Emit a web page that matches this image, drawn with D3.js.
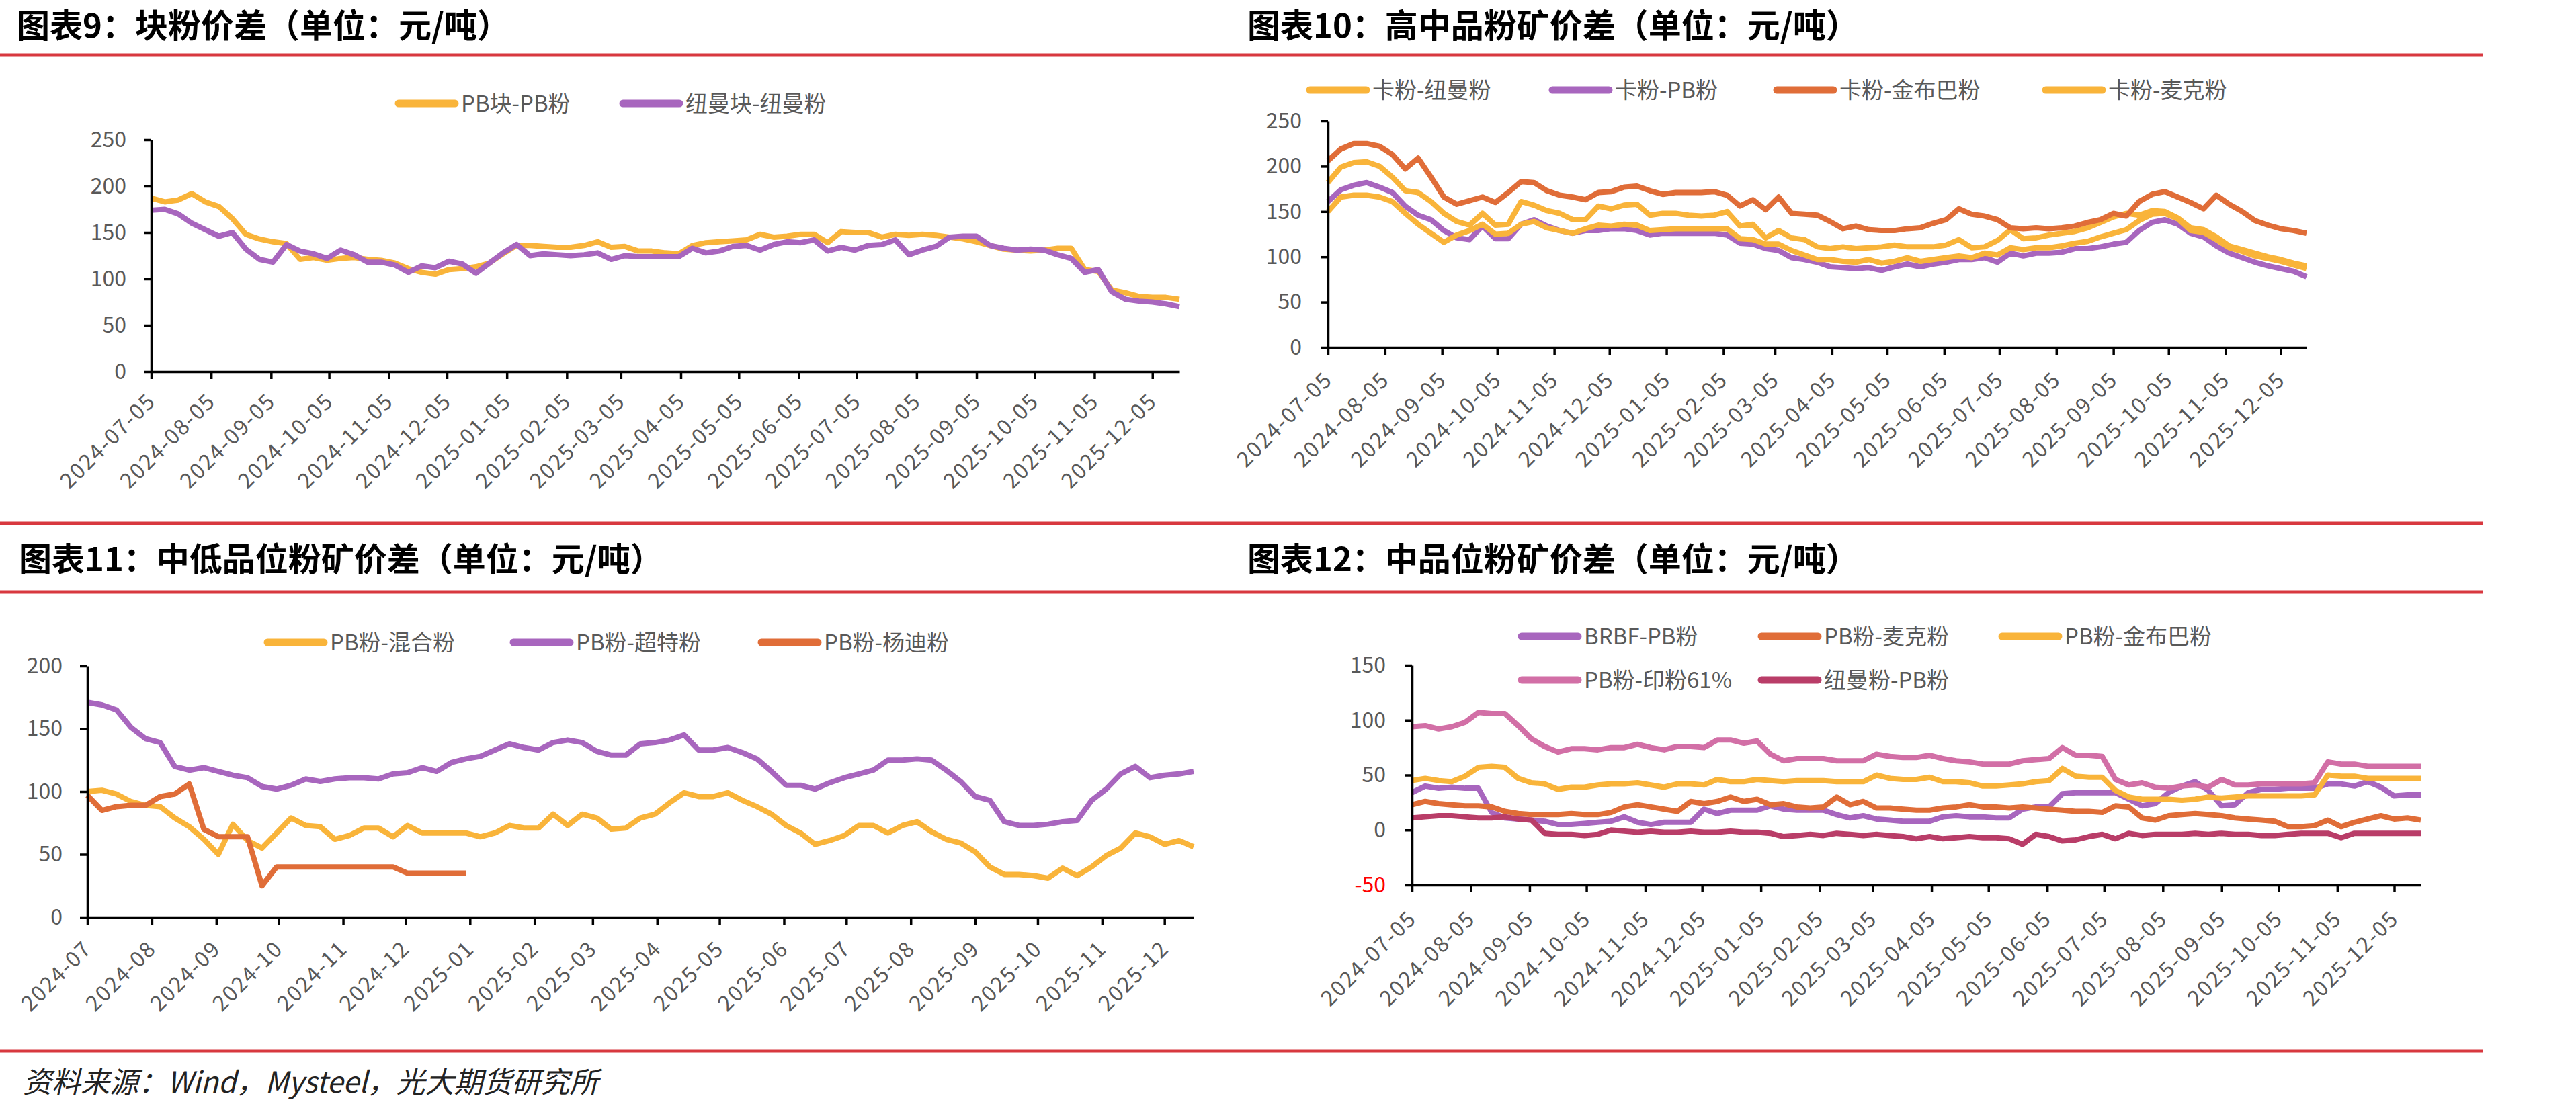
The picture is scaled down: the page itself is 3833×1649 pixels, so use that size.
<!DOCTYPE html>
<html>
<head>
<meta charset="utf-8">
<script src="https://cdn.jsdelivr.net/npm/d3@7"></script>
<style>
  body { margin: 0; background: #fff; }
  svg text { font-family: "Noto Sans CJK SC", "Noto Sans", sans-serif; }
</style>
</head>
<body>
<div id="app"></div>
<script>
// ---- data: weekly readings (one value per week from the first date) ----
const weeks = 77;
const startA = new Date(2024, 6, 5);   // charts 9, 10, 12
const startC = new Date(2024, 6, 1);   // chart 11
const datesA = d3.range(weeks).map(i => d3.timeDay.offset(startA, 7 * i));
const datesC = d3.range(weeks).map(i => d3.timeDay.offset(startC, 7 * i));
const ticksA = d3.range(18).map(m => new Date(2024, 6 + m, 5));
const ticksC = d3.range(18).map(m => new Date(2024, 6 + m, 1));

// 图表9
const pbLump = [187,183,185,192,183,178,165,148,143,140, 138,121,123,120,122,123,121,120,117,111,
  107,105,110,111,113,117,127,136,136,135, 134,134,136,140,134,135,130,130,128,127,
  136,139,140,141,142,148,145,146,148,148, 139,151,150,150,145,148,147,148,147,145,
  143,140,136,132,131,130,131,133,133,110, 108,88,85,81,80,80,78];
const nmLump = [174,175,170,160,153,146,150,132,121,118, 137,130,127,122,131,126,118,118,115,107,
  114,112,119,116,106,117,128,137,125,127, 126,125,126,128,121,125,124,124,124,124,
  133,128,130,135,136,131,137,140,139,142, 130,134,131,136,137,142,126,131,135,145,
  146,146,136,133,131,132,131,126,122,107, 110,86,78,76,75,73,70];

// 图表10
const kaNm = [182,199,204,205,200,188,173,171,161,148, 139,135,148,135,136,161,157,151,148,141,
  141,156,153,157,158,146,148,148,146,145, 146,150,134,136,121,129,121,119,111,109,
  111,109,110,111,113,111,111,111,113,119, 110,111,118,130,120,121,124,126,128,132,
  138,144,148,146,151,150,143,132,130,122, 112,108,104,100,97,93,90];
const kaPb = [161,174,179,182,177,171,156,146,141,129, 121,119,134,120,120,136,141,134,129,126,
  129,129,131,131,129,124,126,126,126,126, 126,124,115,114,109,107,99,97,94,89,
  88,87,88,85,89,92,89,92,94,97, 97,99,94,104,101,104,104,105,109,109,
  111,114,116,129,138,141,136,126,122,112, 104,99,94,90,87,84,78];
const kaJb = [206,219,225,225,222,213,197,209,188,166, 158,162,166,160,171,183,182,173,168,166,
  163,171,172,177,178,173,169,171,171,171, 172,168,156,163,152,166,148,147,146,139,
  131,134,130,129,129,131,132,137,141,153, 147,145,141,132,131,132,131,132,134,138,
  141,148,145,161,169,172,166,160,153,168, 158,150,140,135,131,129,126];
const kaMac = [150,166,168,168,166,161,148,136,126,116, 124,129,136,125,126,136,139,132,129,126,
  131,135,134,136,135,129,130,131,131,131, 131,131,120,119,114,114,107,102,97,97,
  95,94,97,93,95,99,95,97,99,101, 99,104,102,110,108,110,110,112,115,117,
  122,126,130,140,147,148,142,129,127,119, 110,106,101,98,95,91,87];

// 图表11
const pbMix = [100,101,98,92,89,88,79,72,62,50, 74,61,55,67,79,73,72,62,65,71,
  71,64,73,67,67,67,67,64,67,73, 71,71,82,73,82,79,70,71,79,82,
  91,99,96,96,99,93,88,82,73,67, 58,61,65,73,73,67,73,76,68,62,
  59,52,40,34,34,33,31,39,33,40, 49,55,67,64,58,61,56];
const pbSsf = [171,169,165,151,142,139,120,117,119,116, 113,111,104,102,105,110,108,110,111,111,
  110,114,115,119,116,123,126,128,133,138, 135,133,139,141,139,132,129,129,138,139,
  141,145,133,133,135,131,126,116,105,105, 102,107,111,114,117,125,125,126,125,117,
  108,96,93,76,73,73,74,76,77,93, 102,114,120,111,113,114,116];
const pbYandi = [97,85,88,89,89,96,98,106,70,64, 64,64,25,40,40,40,40,40,40,40,
  40,40,35,35,35,35,35];

// 图表12
const brbfPb = [34,40,38,39,38,38,16,11,10,9, 8,5,5,6,7,8,12,7,5,7,
  7,7,19,15,18,18,18,22,19,18, 18,18,14,11,13,10,9,8,8,8,
  12,13,12,12,11,11,19,21,21,33, 34,34,34,34,28,22,24,34,40,44,
  36,22,23,34,37,37,38,38,38,42, 42,40,44,39,31,32,32];
const pbMac = [23,26,24,23,22,22,21,17,15,14, 14,14,15,14,14,16,21,23,21,19,
  17,26,24,26,30,26,28,23,24,21, 20,21,30,23,26,20,20,19,18,18,
  20,21,23,21,21,20,21,20,19,18, 17,17,16,22,21,11,9,13,14,15,
  14,13,11,10,9,8,3,3,4,9, 3,7,10,13,10,11,9];
const pbJb = [45,47,45,44,49,57,58,57,47,43, 42,37,39,39,41,42,42,43,41,39,
  42,42,41,46,44,44,46,45,44,45, 45,45,44,44,44,50,47,46,46,48,
  44,44,43,40,40,41,42,44,45,56, 49,48,48,36,30,28,28,28,27,28,
  30,29,30,31,31,31,31,31,32,50, 49,49,47,47,47,47,47];
const pbIndia = [94,95,92,94,98,107,106,106,95,83, 76,71,74,74,73,75,75,78,75,73,
  76,76,75,82,82,79,81,69,63,65, 65,65,63,63,63,69,67,66,66,68,
  65,63,62,60,60,60,63,64,65,75, 68,68,67,46,41,43,39,38,40,41,
  39,46,41,41,42,42,42,42,43,62, 60,60,58,58,58,58,58];
const nmPb = [11,12,13,13,12,11,11,12,10,9, -3,-4,-4,-5,-4,0,-1,-2,-1,-2,
  -2,-1,-2,-2,-1,-2,-2,-3,-6,-5, -4,-5,-3,-4,-5,-4,-5,-6,-8,-6,
  -8,-7,-6,-7,-7,-8,-13,-4,-6,-10, -9,-6,-4,-8,-3,-5,-4,-4,-4,-3,
  -4,-3,-4,-4,-5,-5,-4,-3,-3,-3, -7,-3,-3,-3,-3,-3,-3];

const gold = "#F9B43A", purple = "#A866BE", rust = "#E06D38", pink = "#D26FA6", wine = "#B93D68";
const grey = "#595959";

const W = 3833, H = 1649;
const svg = d3.select("#app").append("svg")
  .attr("width", W).attr("height", H)
  .attr("viewBox", [0, 0, W, H]);

// red rules and titles
[82, 779, 881, 1564].forEach(yy => {
  svg.append("line").attr("x1", 0).attr("x2", 3695).attr("y1", yy).attr("y2", yy)
    .attr("stroke", "#D8383F").attr("stroke-width", 5);
});
const titles = [
  {t: "图表9：块粉价差（单位：元/吨）", x: 25, y: 56},
  {t: "图表10：高中品粉矿价差（单位：元/吨）", x: 1856, y: 56},
  {t: "图表11：中低品位粉矿价差（单位：元/吨）", x: 28, y: 850},
  {t: "图表12：中品位粉矿价差（单位：元/吨）", x: 1856, y: 850}
];
svg.selectAll(".title").data(titles).enter().append("text")
  .attr("class", "title")
  .attr("x", d => d.x).attr("y", d => d.y)
  .attr("font-size", 49).attr("font-weight", 700).attr("fill", "#000")
  .text(d => d.t);

svg.append("text")
  .attr("x", 34).attr("y", 1626)
  .attr("font-size", 43).attr("font-style", "italic").attr("fill", "#222")
  .text("资料来源：Wind，Mysteel，光大期货研究所");

function panel(cfg) {
  const x = d3.scaleTime().domain(cfg.xDomain).range(cfg.xRange);
  const y = d3.scaleLinear().domain(cfg.yDomain).range(cfg.yRange);
  const g = svg.append("g");

  cfg.series.forEach(s => {
    const pts = s.values.map((v, i) => [cfg.dates[i], v]);
    g.append("path").datum(pts)
      .attr("fill", "none")
      .attr("stroke", s.color)
      .attr("stroke-width", 8)
      .attr("stroke-linejoin", "round")
      .attr("d", d3.line().x(d => x(d[0])).y(d => y(d[1])));
  });

  // y axis
  g.append("g")
    .attr("transform", `translate(${cfg.xRange[0]},0)`)
    .call(d3.axisLeft(y).tickValues(cfg.yTicks).tickSize(11).tickSizeOuter(0)
      .tickPadding(cfg.yPad).tickFormat(d => String(d)))
    .call(a => a.select(".domain").attr("stroke", "#000").attr("stroke-width", 3.5))
    .call(a => a.selectAll(".tick line").attr("stroke", "#000").attr("stroke-width", 3.5))
    .call(a => a.selectAll(".tick text")
      .attr("font-size", 32).attr("font-family", "'Noto Sans', sans-serif")
      .attr("fill", d => d < 0 ? "#FF0000" : grey));

  // x axis
  g.append("g")
    .attr("transform", `translate(0,${cfg.yRange[0]})`)
    .call(d3.axisBottom(x).tickValues(cfg.xTicks).tickSize(11).tickSizeOuter(0)
      .tickFormat(d3.timeFormat(cfg.xFmt)))
    .call(a => a.select(".domain").attr("stroke", "#000").attr("stroke-width", 3.5))
    .call(a => a.selectAll(".tick line").attr("stroke", "#000").attr("stroke-width", 3.5))
    .call(a => a.selectAll(".tick text")
      .attr("font-size", 32).attr("font-family", "'Noto Sans', sans-serif")
      .attr("letter-spacing", 2)
      .attr("fill", grey)
      .attr("text-anchor", "end")
      .attr("x", 0).attr("y", 0).attr("dy", "0.35em")
      .attr("transform", `translate(0,${cfg.labelDrop}) rotate(-45)`));

  // legend
  const lg = g.append("g");
  cfg.legend.forEach(it => {
    lg.append("line")
      .attr("x1", it.x).attr("x2", it.x + 84).attr("y1", it.y).attr("y2", it.y)
      .attr("stroke", it.color).attr("stroke-width", 11).attr("stroke-linecap", "round");
    lg.append("text")
      .attr("x", it.x + 93).attr("y", it.y).attr("dy", "0.36em")
      .attr("font-size", 33).attr("fill", grey)
      .text(it.label);
  });
}

// 图表9
panel({
  xDomain: [startA, new Date(2025, 11, 19)], xRange: [225, 1755],
  yDomain: [0, 250], yRange: [553, 208], yTicks: [0, 50, 100, 150, 200, 250], yPad: 26,
  xTicks: ticksA, xFmt: "%Y-%m-%d", labelDrop: 38, dates: datesA,
  series: [{values: pbLump, color: gold}, {values: nmLump, color: purple}],
  legend: [
    {label: "PB块-PB粉", color: gold, x: 593, y: 154},
    {label: "纽曼块-纽曼粉", color: purple, x: 927, y: 154}
  ]
});

// 图表10
panel({
  xDomain: [startA, new Date(2025, 11, 19)], xRange: [1976, 3432],
  yDomain: [0, 250], yRange: [517, 180], yTicks: [0, 50, 100, 150, 200, 250], yPad: 28,
  xTicks: ticksA, xFmt: "%Y-%m-%d", labelDrop: 42, dates: datesA,
  series: [{values: kaNm, color: gold}, {values: kaPb, color: purple},
           {values: kaJb, color: rust}, {values: kaMac, color: gold}],
  legend: [
    {label: "卡粉-纽曼粉", color: gold, x: 1949, y: 134},
    {label: "卡粉-PB粉", color: purple, x: 2310, y: 134},
    {label: "卡粉-金布巴粉", color: rust, x: 2644, y: 134},
    {label: "卡粉-麦克粉", color: gold, x: 3044, y: 134}
  ]
});

// 图表11
panel({
  xDomain: [startC, new Date(2025, 11, 15)], xRange: [130, 1776],
  yDomain: [0, 200], yRange: [1365, 991], yTicks: [0, 50, 100, 150, 200], yPad: 26,
  xTicks: ticksC, xFmt: "%Y-%m", labelDrop: 41, dates: datesC,
  series: [{values: pbMix, color: gold}, {values: pbSsf, color: purple},
           {values: pbYandi, color: rust}],
  legend: [
    {label: "PB粉-混合粉", color: gold, x: 398, y: 956},
    {label: "PB粉-超特粉", color: purple, x: 764, y: 956},
    {label: "PB粉-杨迪粉", color: rust, x: 1133, y: 956}
  ]
});

// 图表12
panel({
  xDomain: [startA, new Date(2025, 11, 19)], xRange: [2101, 3602],
  yDomain: [-50, 150], yRange: [1317, 990], yTicks: [-50, 0, 50, 100, 150], yPad: 28,
  xTicks: ticksA, xFmt: "%Y-%m-%d", labelDrop: 44, dates: datesA,
  series: [{values: brbfPb, color: purple}, {values: pbMac, color: rust},
           {values: pbJb, color: gold}, {values: pbIndia, color: pink},
           {values: nmPb, color: wine}],
  legend: [
    {label: "BRBF-PB粉", color: purple, x: 2264, y: 947},
    {label: "PB粉-麦克粉", color: rust, x: 2621, y: 947},
    {label: "PB粉-金布巴粉", color: gold, x: 2979, y: 947},
    {label: "PB粉-印粉61%", color: pink, x: 2264, y: 1012},
    {label: "纽曼粉-PB粉", color: wine, x: 2621, y: 1012}
  ]
});
</script>
</body>
</html>
